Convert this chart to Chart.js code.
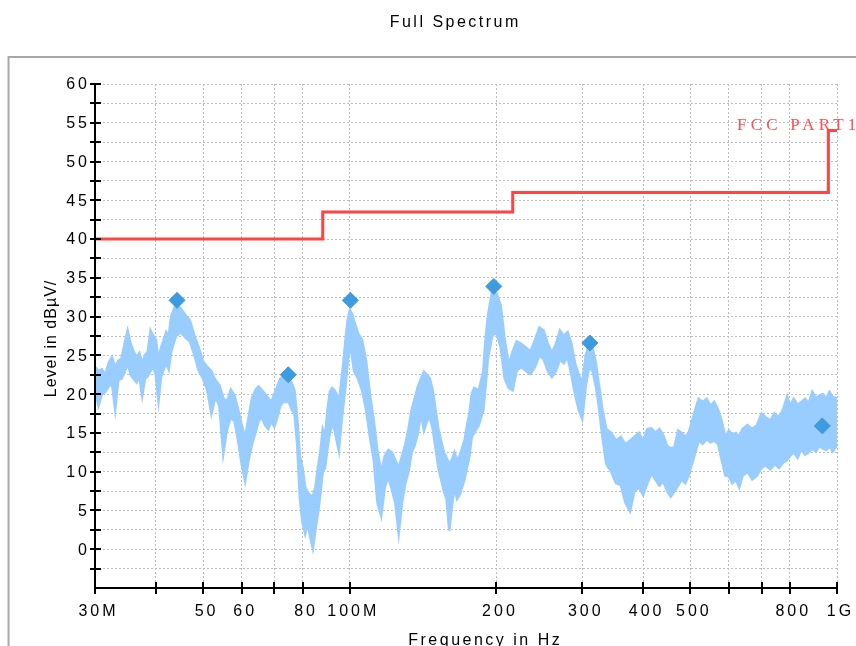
<!DOCTYPE html>
<html>
<head>
<meta charset="utf-8">
<script src="https://cdn.jsdelivr.net/npm/chart.js@4.4.1/dist/chart.umd.min.js"></script>
<style>
  html, body { margin: 0; padding: 0; background: #fff; overflow: hidden; }
  #wrap { width: 856px; height: 646px; }
</style>
</head>
<body>
<div id="wrap"><canvas id="spectrum" width="856" height="646"></canvas></div>
<script>
// Measured spectrum: frequency (MHz) with the upper and lower edge of the noisy trace (dBµV)
const freqMHz = [
  30, 30.5, 31, 31.5, 32, 32.5, 33, 33.5, 34, 34.5, 35, 35.5, 36, 36.5, 37, 37.5, 38, 38.5, 39, 39.5,
  40, 40.5, 41, 42, 42.5, 43, 44, 45, 46, 47, 48, 49, 50, 51, 52, 53, 54, 55, 56, 57,
  58, 59, 60, 61, 62, 63, 64, 65, 66, 67, 68, 69, 70, 71, 72, 73, 74, 75, 76, 77,
  78, 79, 80, 81, 82, 83, 84, 85, 86, 87, 88, 89, 90, 91, 92, 93, 94, 95, 96, 97,
  98, 99, 100, 101, 102, 104, 106, 108, 110, 112, 114, 116, 118, 120, 122, 124, 126, 128, 130, 132,
  134, 136, 138, 140, 142, 144, 146, 148, 150, 152, 154, 156, 158, 160, 162, 164, 166, 168, 170, 172,
  174, 176, 178, 180, 184, 188, 190, 192, 196, 200, 204, 208, 212, 216, 220, 225, 230, 235, 240, 245,
  250, 255, 260, 265, 270, 275, 280, 285, 290, 295, 300, 305, 310, 315, 320, 325, 330, 336, 344, 352,
  360, 368, 376, 384, 392, 400, 408, 416, 424, 432, 440, 448, 456, 464, 472, 480, 488, 496, 504, 512,
  520, 530, 540, 550, 560, 570, 580, 590, 600, 610, 620, 630, 640, 655, 670, 685, 700, 715, 730, 745,
  760, 775, 790, 800, 815, 830, 845, 860, 875, 890, 905, 920, 935, 950, 965, 980, 1000
];
const traceHigh = [
  23.5, 23.0, 23.2, 22.5, 24.0, 24.8, 23.5, 24.3, 24.6, 26.5, 28.2, 26.5, 25.5, 24.8, 25.3, 24.0, 25.0, 25.5, 28.2, 27.5,
  27.0, 24.5, 26.0, 28.0, 27.5, 30.0, 31.7, 31.0, 30.2, 29.5, 27.5, 26.0, 24.2, 23.5, 23.0, 21.8, 21.2, 19.5, 19.0, 20.6,
  19.8, 18.0, 16.0, 14.5, 17.0, 19.5, 20.5, 21.0, 20.5, 20.0, 19.5, 19.0, 20.0, 21.0, 22.0, 22.3, 22.0, 22.0, 21.5, 20.5,
  17.0, 12.0, 10.5, 8.0, 7.3, 7.0, 6.8, 8.0, 10.5, 12.5, 15.5, 14.6, 18.0, 20.3, 20.8, 20.5, 20.0, 19.0, 21.5, 24.0,
  27.0, 29.5, 30.8, 30.4, 29.5, 27.8, 27.0, 24.3, 20.0, 16.6, 12.6, 10.0, 12.0, 12.8, 12.5, 11.5, 10.5, 12.0, 13.5, 15.5,
  18.0, 19.5, 21.0, 22.0, 22.9, 22.5, 22.0, 20.5, 18.0, 15.5, 14.0, 12.5, 11.8, 11.0, 11.5, 12.5, 11.5, 12.0, 13.0, 14.0,
  16.0, 17.5, 20.0, 20.8, 20.5, 23.0, 27.2, 30.0, 33.3, 33.0, 31.5, 27.0, 23.8, 25.5, 26.8, 26.5, 26.0, 25.5, 27.0, 28.6,
  28.2, 26.5, 25.3, 26.5, 28.2, 27.5, 28.0, 26.5, 24.0, 22.5, 21.5, 25.0, 26.6, 26.0, 24.0, 21.0, 18.0, 15.5, 15.0, 14.0,
  14.5, 13.5, 14.0, 14.5, 15.0, 14.0, 15.5, 15.6, 15.0, 15.5, 14.7, 13.3, 13.0, 13.2, 15.3, 15.0, 14.5, 15.0, 16.5, 18.0,
  19.4, 19.0, 19.4, 18.5, 19.0, 18.0, 16.5, 14.5, 15.3, 14.8, 15.0, 14.5, 15.5, 16.0, 15.5, 16.0, 17.5, 17.0, 16.6, 17.5,
  17.0, 18.0, 19.7, 18.5, 19.4, 18.6, 19.0, 19.4, 18.8, 20.3, 19.5, 19.8, 20.0, 19.4, 20.3, 19.6, 19.5
];
const traceLow = [
  20.5, 18.5, 20.0, 20.3, 21.0, 21.4, 18.0, 21.8, 22.0, 22.8, 24.0, 22.5, 22.0, 21.5, 22.2, 19.8, 22.0, 22.3, 23.0, 23.5,
  22.5, 19.1, 22.3, 24.0, 23.2, 25.5, 27.5, 28.0, 27.3, 26.8, 25.0, 23.0, 22.0, 20.5, 17.5, 19.6, 18.5, 12.3, 15.5, 17.0,
  16.5, 14.0, 11.0, 8.8, 11.5, 13.5, 15.0, 16.5, 17.0, 16.0, 15.5, 16.5, 15.8, 17.0, 18.5, 19.0, 19.0, 19.0, 18.0, 17.5,
  13.5, 6.5, 3.5, 2.0, 3.5, 1.5, 0.1, 2.5, 4.5, 7.0, 10.0, 10.5, 13.0, 15.0, 16.0, 15.5, 14.0, 12.7, 16.0, 18.5,
  21.0, 24.0, 26.5, 25.0, 23.0, 22.0, 20.5, 18.0, 14.5, 11.5, 6.0, 4.3, 8.0, 9.3, 7.7, 6.0, 2.0, 6.0, 8.5, 10.0,
  12.5, 13.5, 15.0, 17.5, 15.3, 16.5, 17.0, 15.5, 13.0, 10.5, 9.0, 7.5, 6.5, 2.4, 5.5, 8.0, 6.5, 7.0, 8.0, 9.0,
  10.5, 12.0, 14.5, 15.0, 16.0, 18.0, 21.0, 24.5, 27.5, 28.0, 26.0, 22.0, 20.8, 20.5, 23.0, 23.5, 23.0, 22.6, 23.5, 25.0,
  24.5, 23.0, 22.2, 23.0, 24.5, 24.0, 24.8, 22.5, 20.0, 18.0, 16.8, 21.0, 23.5, 23.0, 21.0, 18.0, 14.5, 11.0, 10.0, 8.5,
  8.3, 6.0, 4.9, 7.5, 8.0, 7.0, 8.5, 9.8, 9.0, 8.2, 8.8, 7.5, 6.8, 7.5, 8.2, 9.0, 8.5, 9.5, 11.0, 12.5,
  14.0, 13.6, 14.2, 13.8, 14.0, 13.6, 11.5, 9.5, 9.4, 8.5, 9.0, 8.0, 9.5, 10.0, 9.0, 9.5, 10.5, 10.8, 10.3, 11.0,
  10.5, 11.2, 11.5, 12.0, 12.5, 11.8, 12.9, 12.2, 12.5, 13.0, 12.6, 13.3, 13.0, 12.8, 13.3, 12.6, 13.4
];

// Detected peaks
const peakFreqMHz = [44.2, 74.8, 100.3, 197.5, 311, 933];
const peakLevel = [32.1, 22.5, 32.1, 33.9, 26.6, 15.9];

// FCC Part 15 limit line (step changes)
const limitFreqMHz = [30, 88, 216, 960, 1000];
const limitLevel = [40, 43.5, 46, 54, 54];
const limitName = 'FCC PART15';

// Axis ticks
const xGridMHz = [30, 40, 50, 60, 70, 80, 100, 200, 300, 400, 500, 600, 700, 800, 1000];
const xLabelMHz = [30, 50, 60, 80, 100, 200, 300, 400, 500, 800, 1000];
const xLabelText = ['30M', '50', '60', '80', '100M', '200', '300', '400', '500', '800', '1G'];
const yTickStep = 2.5;
const yLabelValues = [0, 5, 10, 15, 20, 25, 30, 35, 40, 45, 50, 55, 60];

const chartTitle = 'Full Spectrum';
const xTitle = 'Frequency in Hz';
const yTitle = 'Level in dBµV/';

const SANS = '"Liberation Sans", Arial, sans-serif';
const SERIF = '"Liberation Serif", "Times New Roman", serif';

function spacedText(ctx, text, x, y, spacing, align) {
  ctx.letterSpacing = spacing + 'px';
  const w = ctx.measureText(text).width - spacing;
  let left = x;
  if (align === 'center') left = x - w / 2;
  else if (align === 'right') left = x - w;
  ctx.textAlign = 'left';
  ctx.fillText(text, left, y);
  ctx.letterSpacing = '0px';
}

const decorations = {
  id: 'decorations',
  beforeDraw(chart) {
    const ctx = chart.ctx;
    ctx.save();
    ctx.fillStyle = '#ffffff';
    ctx.fillRect(0, 0, chart.width, chart.height);
    // outer frame
    ctx.strokeStyle = '#a8a8a8';
    ctx.lineWidth = 2;
    ctx.beginPath();
    ctx.moveTo(8.5, chart.height);
    ctx.lineTo(8.5, 57);
    ctx.lineTo(chart.width, 57);
    ctx.stroke();
    ctx.restore();
  },
  afterDatasetsDraw(chart) {
    const ctx = chart.ctx;
    const xs = chart.scales.x, ys = chart.scales.y;
    const area = chart.chartArea;
    ctx.save();
    ctx.strokeStyle = '#000';
    ctx.lineWidth = 2;
    // axis lines
    ctx.beginPath();
    ctx.moveTo(area.left, area.top);
    ctx.lineTo(area.left, area.bottom);
    ctx.lineTo(area.right, area.bottom);
    ctx.stroke();
    // y tick marks (crossing the axis)
    ctx.beginPath();
    for (let v = ys.min + yTickStep; v <= ys.max + 1e-9; v += yTickStep) {
      const py = Math.round(ys.getPixelForValue(v));
      ctx.moveTo(area.left - 5, py);
      ctx.lineTo(area.left + 6, py);
    }
    // x tick marks
    xGridMHz.forEach(f => {
      const px = Math.round(xs.getPixelForValue(f));
      ctx.moveTo(px, area.bottom - 6);
      ctx.lineTo(px, area.bottom + 6);
    });
    ctx.stroke();

    // tick labels
    ctx.fillStyle = '#000';
    ctx.font = '16px ' + SANS;
    ctx.textBaseline = 'middle';
    yLabelValues.forEach(v => {
      spacedText(ctx, String(v), area.left - 8, ys.getPixelForValue(v) + 1, 3, 'right');
    });
    ctx.textBaseline = 'alphabetic';
    xLabelMHz.forEach((f, i) => {
      spacedText(ctx, xLabelText[i], xs.getPixelForValue(f) + 2, 616, 3, 'center');
    });

    // titles
    ctx.font = '16px ' + SANS;
    spacedText(ctx, chartTitle, 454, 27, 2.5, 'center');
    spacedText(ctx, xTitle, 484, 645, 2.5, 'center');
    ctx.save();
    ctx.translate(55.5, 339);
    ctx.rotate(-Math.PI / 2);
    spacedText(ctx, yTitle, 0, 0, 1, 'center');
    ctx.restore();

    // limit line name
    ctx.fillStyle = '#ff4d4d';
    ctx.font = '17px ' + SERIF;
    spacedText(ctx, limitName, 737, 129.5, 4.2, 'left');
    ctx.restore();
  }
};

const gridStyle = { color: '#bdbdbd', lineWidth: 1, drawTicks: false };

new Chart(document.getElementById('spectrum'), {
  type: 'line',
  data: {
    datasets: [
      {
        label: 'Trace max',
        data: freqMHz.map((f, i) => ({ x: f, y: traceHigh[i] })),
        borderColor: '#99ccff',
        backgroundColor: '#99ccff',
        borderWidth: 2.5,
        pointRadius: 0,
        tension: 0,
        fill: '+1',
        order: 2
      },
      {
        label: 'Trace min',
        data: freqMHz.map((f, i) => ({ x: f, y: traceLow[i] })),
        borderColor: '#99ccff',
        backgroundColor: '#99ccff',
        borderWidth: 2.5,
        pointRadius: 0,
        tension: 0,
        fill: false,
        order: 3
      },
      {
        label: limitName,
        data: limitFreqMHz.map((f, i) => ({ x: f, y: limitLevel[i] })),
        borderColor: '#ff4444',
        borderWidth: 3,
        pointRadius: 0,
        stepped: 'before',
        fill: false,
        order: 1
      },
      {
        label: 'Peaks',
        data: peakFreqMHz.map((f, i) => ({ x: f, y: peakLevel[i] })),
        showLine: false,
        pointStyle: 'rectRot',
        pointRadius: 8,
        backgroundColor: '#3d9be0',
        borderColor: '#3d9be0',
        borderWidth: 1,
        fill: false,
        order: 0
      }
    ]
  },
  options: {
    responsive: false,
    animation: false,
    devicePixelRatio: 1,
    layout: { padding: { left: 95, top: 84, right: 19, bottom: 58 } },
    plugins: { legend: { display: false }, tooltip: { enabled: false }, title: { display: false } },
    scales: {
      x: {
        type: 'logarithmic',
        min: 30,
        max: 1000,
        afterBuildTicks: s => { s.ticks = xGridMHz.map(v => ({ value: v })); },
        afterFit: s => { s.height = 0; },
        ticks: { display: false },
        grid: gridStyle,
        border: { display: false, dash: [2, 2] }
      },
      y: {
        type: 'linear',
        min: -5,
        max: 60,
        afterFit: s => { s.width = 0; },
        ticks: { display: false, stepSize: yTickStep },
        grid: gridStyle,
        border: { display: false, dash: [2, 2] }
      }
    }
  },
  plugins: [decorations]
});
</script>
</body>
</html>
